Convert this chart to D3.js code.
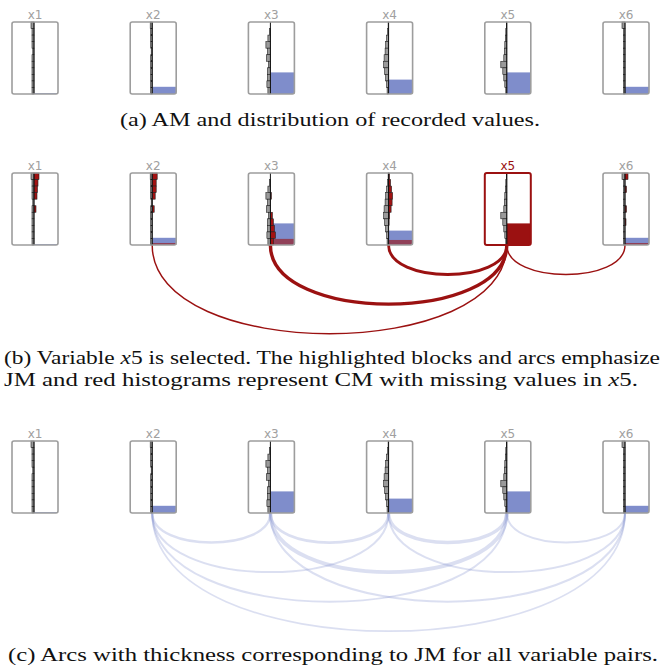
<!DOCTYPE html>
<html>
<head>
<meta charset="utf-8">
<script src="https://cdn.jsdelivr.net/npm/d3@7"></script>
<style>
  body { margin: 0; background: #fff; }
  svg { display: block; }
</style>
</head>
<body>
<svg id="chart" width="663" height="668"></svg>
<script>
// Variables and their share of missing values (AM)
const variables = ["x1", "x2", "x3", "x4", "x5", "x6"];
const missingShare = [0.01, 0.10, 0.30, 0.20, 0.30, 0.10];

// Histogram of recorded values per variable (11 bins, top to bottom)
const recordedHist = [
  [30, 20, 20, 20, 12, 20, 20, 20, 20, 20, 20],
  [20, 15, 15, 15, 10, 15, 15, 15, 15, 15, 15],
  [0, 10, 25, 45, 30, 40, 20, 30, 30, 35, 25],
  [5, 10, 20, 30, 35, 45, 50, 40, 30, 20, 15],
  [5, 10, 15, 20, 25, 30, 60, 40, 30, 20, 10],
  [30, 15, 15, 15, 15, 15, 15, 15, 15, 15, 15]
];

// Selected variable and the conditional histograms (CM) of the other
// variables over rows where the selected one is missing
const selectedVar = "x5";
const conditionalHist = [
  [50, 40, 35, 30, 0, 20, 0, 0, 0, 0, 0],
  [50, 40, 40, 30, 0, 20, 0, 0, 0, 0, 0],
  [0, 0, 0, 10, 0, 0, 20, 30, 40, 50, 30],
  [10, 20, 30, 40, 35, 25, 10, 5, 0, 0, 0],
  null,
  [30, 0, 15, 0, 0, 15, 0, 10, 0, 0, 0]
];

// Joint missingness (JM) for variable pairs
const pairFrom = ["x2", "x2", "x2", "x2", "x3", "x3", "x3", "x4", "x4", "x5"];
const pairTo   = ["x3", "x4", "x5", "x6", "x4", "x5", "x6", "x5", "x6", "x6"];
const pairJM   = [0.04, 0.03, 0.028, 0.02, 0.05, 0.085, 0.03, 0.07, 0.03, 0.028];

const captionA = "(a) AM and distribution of recorded values.";
const captionB1 = ["(b) Variable ", "x", "5 is selected. The highlighted blocks and arcs emphasize"];
const captionB2 = ["JM and red histograms represent CM with missing values in ", "x", "5."];
const captionC = "(c) Arcs with thickness corresponding to JM for all variable pairs.";

const svg = d3.select("#chart");

const blockW = 46, blockH = 72;
const xPos = d3.scalePoint().domain(variables).range([35, 626]);
const barW = d3.scaleLinear().domain([0, 60]).range([0, 6]);
const amH = d3.scaleLinear().domain([0, 1]).range([0, blockH]);
const jmStroke = d3.scaleLinear().domain([0, 0.1]).range([0.5, 3.9]);
const bins = d3.range(11);

const RED = "#9b1111";
const BLUE = "#7f8dcb";
const GRAY_BORDER = "#9d9d9d";

const jmWith = (sel, v) => {
  for (let i = 0; i < pairJM.length; i++) {
    if ((pairFrom[i] === sel && pairTo[i] === v) || (pairTo[i] === sel && pairFrom[i] === v)) return pairJM[i];
  }
  return 0;
};

function arcPath(a, b, y0) {
  const xa = xPos(a) - 1, xb = xPos(b) - 1;
  const h = Math.abs(xb - xa) / 3;
  return `M${xa},${y0} C${xa},${y0 + h} ${xb},${y0 + h} ${xb},${y0}`;
}

function drawPanel(top, mode) {
  const g = svg.append("g");
  const bottom = top + blockH;
  const yBin = d3.scaleBand().domain(bins).range([top, bottom]);

  // arcs sit beneath the blocks
  const arcs = g.append("g").attr("fill", "none");
  if (mode === "all") {
    pairJM.forEach((v, i) => {
      arcs.append("path")
        .attr("d", arcPath(pairFrom[i], pairTo[i], bottom))
        .attr("stroke", BLUE)
        .attr("stroke-opacity", 0.28)
        .attr("stroke-width", jmStroke(v) + 0.5);
    });
  } else if (mode === "selected") {
    pairJM.forEach((v, i) => {
      if (pairFrom[i] !== selectedVar && pairTo[i] !== selectedVar) return;
      arcs.append("path")
        .attr("d", arcPath(pairFrom[i], pairTo[i], bottom))
        .attr("stroke", RED)
        .attr("stroke-width", jmStroke(v));
    });
  }

  variables.forEach((v, i) => {
    const cx = xPos(v);
    const left = cx - blockW / 2, right = cx + blockW / 2;
    const ax = cx - 1;
    const isSel = mode === "selected" && v === selectedVar;
    const b = g.append("g");

    b.append("rect")
      .attr("x", left).attr("y", top).attr("width", blockW).attr("height", blockH)
      .attr("rx", 2).attr("fill", "#fff");

    // missing share block
    const mh = amH(missingShare[i]);
    b.append("rect")
      .attr("x", ax).attr("y", bottom - mh)
      .attr("width", right - ax).attr("height", mh)
      .attr("fill", isSel ? RED : BLUE);

    if (mode === "selected" && !isSel) {
      const jh = amH(jmWith(selectedVar, v));
      if (jh > 0) {
        b.append("rect")
          .attr("x", ax).attr("y", bottom - jh)
          .attr("width", right - ax).attr("height", jh)
          .attr("fill", RED).attr("fill-opacity", 0.62);
      }
    }

    // recorded-value histogram, bars growing left from the axis
    b.selectAll("rect.rec")
      .data(recordedHist[i].map((c, k) => ({ c, k })).filter(d => d.c > 0))
      .join("rect")
      .attr("class", "rec")
      .attr("x", d => ax - barW(d.c))
      .attr("y", d => yBin(d.k))
      .attr("width", d => barW(d.c))
      .attr("height", yBin.bandwidth())
      .attr("fill", "#9a9a9a")
      .attr("stroke", "#222")
      .attr("stroke-width", 0.6);

    // conditional histogram, bars growing right from the axis
    if (mode === "selected" && conditionalHist[i]) {
      b.selectAll("rect.cm")
        .data(conditionalHist[i].map((c, k) => ({ c, k })).filter(d => d.c > 0))
        .join("rect")
        .attr("class", "cm")
        .attr("x", ax)
        .attr("y", d => yBin(d.k))
        .attr("width", d => barW(d.c))
        .attr("height", yBin.bandwidth())
        .attr("fill", "#a31212")
        .attr("stroke", "#222")
        .attr("stroke-width", 0.6);
    }

    b.append("line")
      .attr("x1", ax).attr("x2", ax).attr("y1", top).attr("y2", bottom)
      .attr("stroke", "#111").attr("stroke-width", 1);

    b.append("rect")
      .attr("x", left).attr("y", top).attr("width", blockW).attr("height", blockH)
      .attr("rx", 2).attr("fill", "none")
      .attr("stroke", isSel ? RED : GRAY_BORDER)
      .attr("stroke-width", isSel ? 2 : 1.6);

    b.append("text")
      .attr("x", cx).attr("y", top - 3.5)
      .attr("text-anchor", "middle")
      .attr("font-family", "DejaVu Sans, sans-serif")
      .attr("font-size", 12)
      .attr("fill", isSel ? RED : "#a0a0a0")
      .text(v);
  });
}

drawPanel(22, "plain");
drawPanel(173, "selected");
drawPanel(441, "all");

// captions
const cap = svg.append("g")
  .attr("font-family", "Liberation Serif, serif")
  .attr("font-size", 18)
  .attr("fill", "#111");

cap.append("text").attr("x", 330).attr("y", 126)
  .attr("text-anchor", "middle")
  .attr("textLength", 420).attr("lengthAdjust", "spacingAndGlyphs")
  .text(captionA);

function mathLine(parts, x, y, len) {
  const t = cap.append("text").attr("x", x).attr("y", y)
    .attr("textLength", len).attr("lengthAdjust", "spacingAndGlyphs");
  parts.forEach((p, k) => {
    t.append("tspan").attr("font-style", k === 1 ? "italic" : null).text(p);
  });
}
mathLine(captionB1, 4, 364, 656);
mathLine(captionB2, 4, 386, 634);

cap.append("text").attr("x", 333).attr("y", 661)
  .attr("text-anchor", "middle")
  .attr("textLength", 650).attr("lengthAdjust", "spacingAndGlyphs")
  .text(captionC);
</script>
</body>
</html>
